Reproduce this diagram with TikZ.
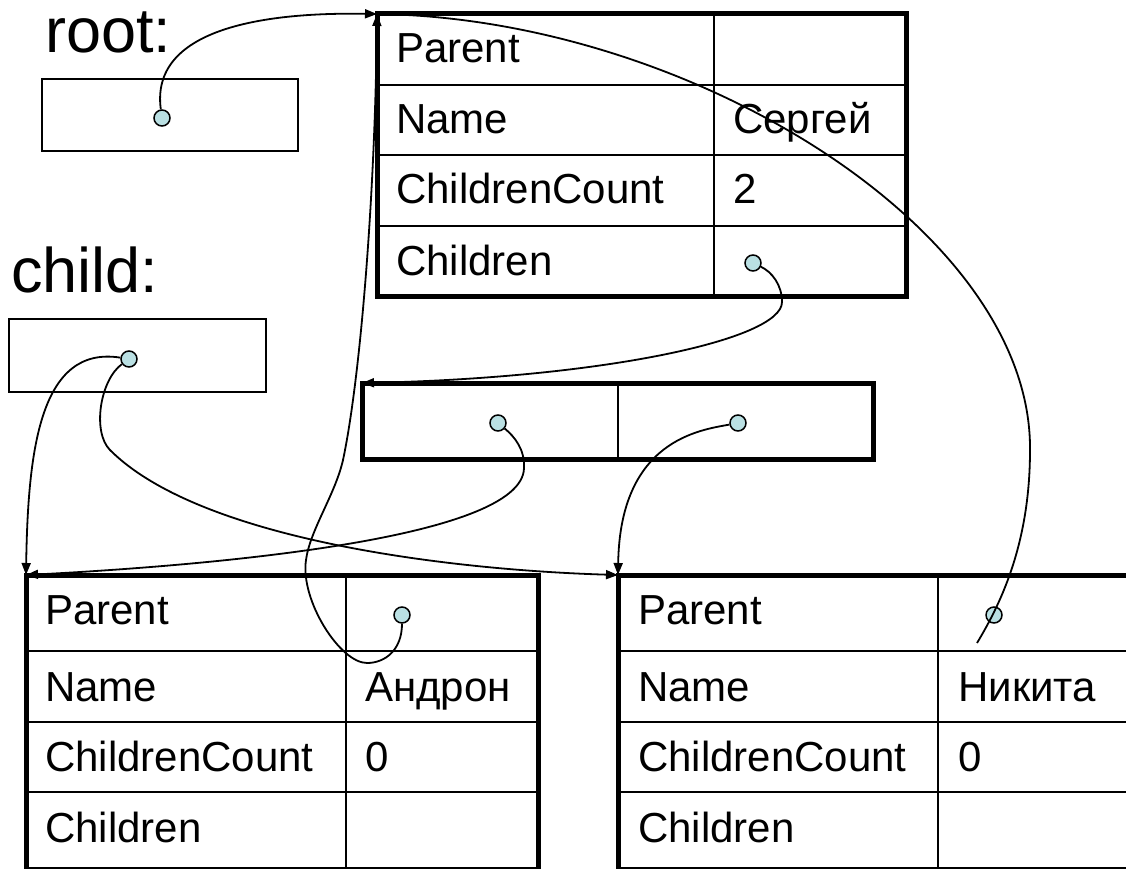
\documentclass[tikz,border=0pt]{standalone}
\usepackage{fontspec}
\setmainfont{Liberation Sans}
\usetikzlibrary{arrows.meta}
\definecolor{dotfill}{RGB}{186,224,227}
\begin{document}
\begin{tikzpicture}[x=1pt,y=-1pt,
  frame/.style={draw,line width=5pt,rectangle,inner sep=0pt,outer sep=0pt,anchor=north west},
  thinbox/.style={draw,line width=2pt,rectangle,inner sep=0pt,outer sep=0pt,anchor=north west},
  grid/.style={line width=2pt},
  cell/.style={anchor=base west,inner sep=0pt,font=\fontsize{42}{50}\selectfont},
  varname/.style={anchor=base west,inner sep=0pt,font=\fontsize{63}{72}\selectfont},
  ptr/.style={circle,draw,line width=1.5pt,fill=dotfill,minimum size=16pt,inner sep=0pt},
  link/.style={line width=1.8pt,-{Triangle[length=12pt,width=9pt]}},
  plainlink/.style={line width=1.8pt}
]
\useasboundingbox (0,0) rectangle (1126,869);
\clip (0,0) rectangle (1126,869);

% variables
\node[varname] (rootlbl) at (45,53) {root:};
\node[thinbox,minimum width=256pt,minimum height=72pt] (rootbox) at (42,79) {};
\node[varname] (childlbl) at (11,292) {child:};
\node[thinbox,minimum width=257pt,minimum height=73pt] (childbox) at (9,319) {};

% object: Sergey
\node[frame,minimum width=529pt,minimum height=282pt] (objS) at (377,14) {};
\draw[grid] (714,14) -- (714,296);
\foreach \yy in {85,155,226} \draw[grid] (377,\yy) -- (906,\yy);
\node[cell] (sP)  at (396,63)  {Parent};
\node[cell] (sN)  at (396,134) {Name};
\node[cell] (sNv) at (733,134) {Сергей};
\node[cell] (sC)  at (396,204) {ChildrenCount};
\node[cell] (sCv) at (733,204) {2};
\node[cell] (sK)  at (396,275) {Children};

% children array
\node[frame,minimum width=511pt,minimum height=76pt] (arr) at (362,383) {};
\draw[grid] (618,383) -- (618,459);

% object: Andron
\node[frame,minimum width=512pt,minimum height=294pt] (objA) at (26,575) {};
\draw[grid] (346,575) -- (346,869);
\foreach \yy in {651,722,792} \draw[grid] (26,\yy) -- (538,\yy);
\node[cell] (aP)  at (45,624) {Parent};
\node[cell] (aN)  at (45,701) {Name};
\node[cell] (aNv) at (365,701) {Андрон};
\node[cell] (aC)  at (45,771) {ChildrenCount};
\node[cell] (aCv) at (365,771) {0};
\node[cell] (aK)  at (45,842) {Children};

% object: Nikita
\node[frame,minimum width=540pt,minimum height=294pt] (objN) at (618,575) {};
\draw[grid] (938,575) -- (938,869);
\foreach \yy in {651,722,792} \draw[grid] (618,\yy) -- (1160,\yy);
\node[cell] (nP)  at (638,624) {Parent};
\node[cell] (nN)  at (638,701) {Name};
\node[cell] (nNv) at (958,701) {Никита};
\node[cell] (nC)  at (638,771) {ChildrenCount};
\node[cell] (nCv) at (958,771) {0};
\node[cell] (nK)  at (638,842) {Children};

% pointer values
\node[ptr] (rootdot)  at (162,118) {};
\node[ptr] (childdot) at (129,359) {};
\node[ptr] (kidsdot)  at (753,263) {};
\node[ptr] (m1dot)    at (498,423) {};
\node[ptr] (m2dot)    at (738,423) {};
\node[ptr] (adot)     at (402,615) {};
\node[ptr] (ndot)     at (994,615) {};
\coordinate (ntail) at (977,643);

% references
\draw[link] (rootdot) .. controls (150,30) and (260,12) .. (objS.north west);
\draw[link] (kidsdot) .. controls (772,272) and (782,285) .. (782,302)
  .. controls (782,340) and (600,378) .. (arr.north west);
\draw[link] (m1dot) .. controls (515,437) and (525,450) .. (524,468)
  .. controls (523,540) and (200,566) .. (objA.north west);
\draw[link] (m2dot) .. controls (700,430) and (620,440) .. (objN.north west);
\draw[link] (childdot) .. controls (40,345) and (28,450) .. (objA.north west);
\draw[link] (childdot) .. controls (100,380) and (92,432) .. (110,450)
  .. controls (200,540) and (450,570) .. (objN.north west);
\draw[link] (adot) .. controls (402,650) and (385,663) .. (367,663)
  .. controls (340,663) and (300,600) .. (306,560)
  .. controls (310,530) and (335,495) .. (343,460)
  .. controls (360,380) and (375,200) .. (objS.north west);
\draw[plainlink] (ntail) .. controls (1003,600) and (1030,540) .. (1030,450)
  .. controls (1032,230) and (690,18) .. (objS.north west);
\end{tikzpicture}
\end{document}
